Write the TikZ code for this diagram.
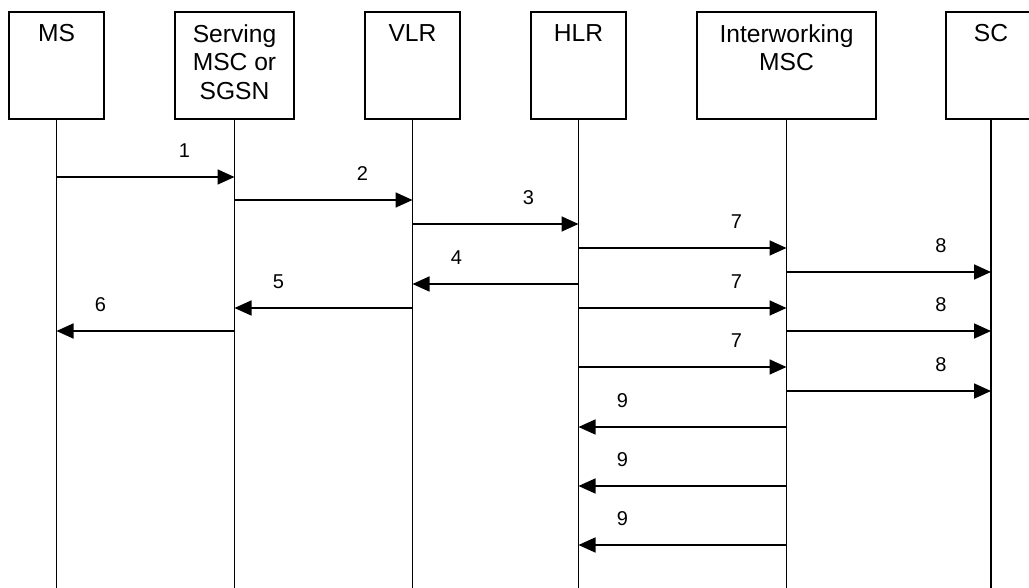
\documentclass[tikz,border=0pt]{standalone}
\usepackage{fontspec}
\setmainfont{Liberation Sans}
\usepackage{tikz}
\usetikzlibrary{positioning,arrows.meta}

\begin{document}
\begin{tikzpicture}[x=0.5pt, y=-0.5pt, line width=0.85pt,
  font=\fontsize{10}{12}\selectfont,
  >={Triangle[length=8.5pt, width=7.5pt]},
  unit/.style={draw, minimum height=53.5pt, inner sep=0pt},
  unittext/.style={anchor=north, align=center, inner xsep=0pt, inner ysep=6.2pt,
                   font=\fontsize{12.3}{14.2}\selectfont},
  num/.style={inner sep=0pt, pos=1, yshift=13pt},
  numr/.style={num, xshift=-25pt},
  numl/.style={num, xshift=22pt}]
  \clip (0,0) rectangle (1029,588);
  \foreach \n/\x/\w/\t in {ms/56.5/95/MS, msc/234.5/119/{Serving\\MSC or\\SGSN}, vlr/412.5/95/VLR,
                           hlr/578.5/95/HLR, iw/786.5/179/{Interworking\\MSC}, sc/991/90/SC} {
    \node[unit, minimum width=\w*0.5pt] (\n) at (\x,65.5) {};
    \node[unittext] (\n-t) at (\n.north) {\t};
    \draw (\n.south) -- (\n.south |- 0,588);
  }
  \draw[->] (ms |- 0,177) -- (msc |- 0,177) node[numr] {1};
  \draw[->] (msc |- 0,200) -- (vlr |- 0,200) node[numr] {2};
  \draw[->] (vlr |- 0,224) -- (hlr |- 0,224) node[numr] {3};
  \draw[->] (hlr |- 0,248) -- (iw |- 0,248) node[numr] {7};
  \draw[->] (iw |- 0,272) -- (sc |- 0,272) node[numr] {8};
  \draw[->] (hlr |- 0,284) -- (vlr |- 0,284) node[numl] {4};
  \draw[->] (vlr |- 0,308) -- (msc |- 0,308) node[numl] {5};
  \draw[->] (hlr |- 0,308) -- (iw |- 0,308) node[numr] {7};
  \draw[->] (msc |- 0,331) -- (ms |- 0,331) node[numl] {6};
  \draw[->] (iw |- 0,331) -- (sc |- 0,331) node[numr] {8};
  \draw[->] (hlr |- 0,367) -- (iw |- 0,367) node[numr] {7};
  \draw[->] (iw |- 0,391) -- (sc |- 0,391) node[numr] {8};
  \foreach \y in {427, 486, 545}
    \draw[->] (iw |- 0,\y) -- (hlr |- 0,\y) node[numl] {9};
\end{tikzpicture}
\end{document}
